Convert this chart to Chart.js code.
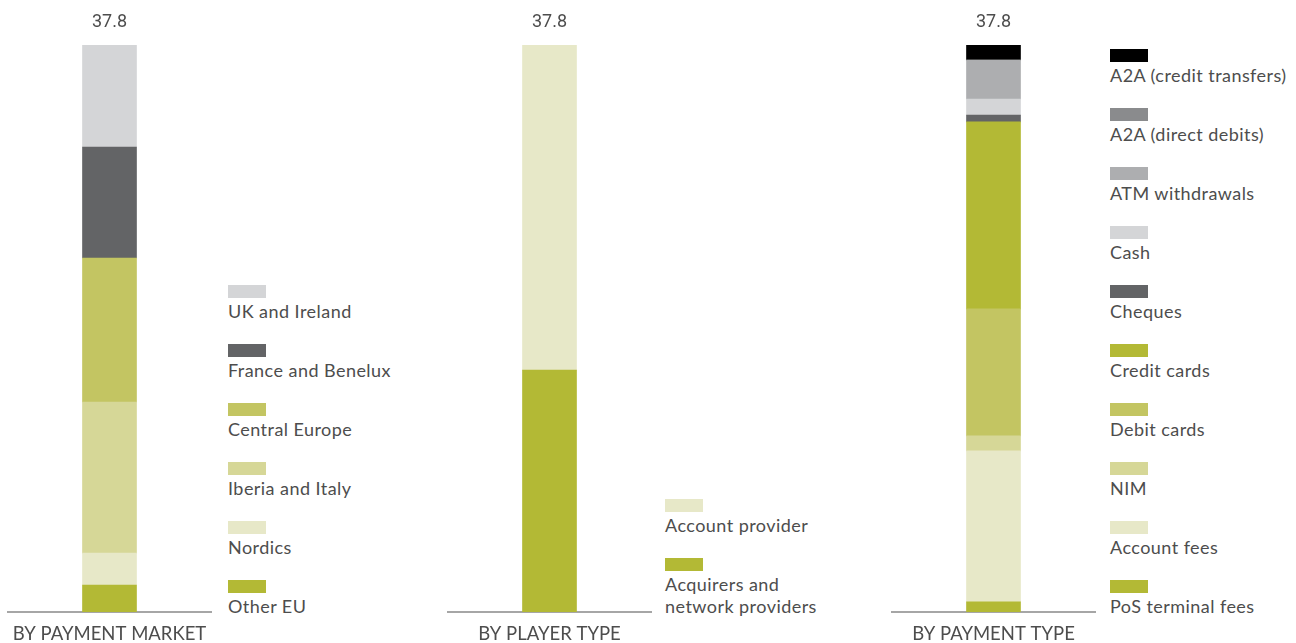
<!DOCTYPE html>
<html>
<head>
<meta charset="utf-8">
<script src="https://cdn.jsdelivr.net/npm/chart.js@4/dist/chart.umd.min.js"></script>
<style>
  body { margin: 0; width: 1296px; height: 643px; background: #fff; font-family: Lato, 'Open Sans', sans-serif; overflow: hidden; }
  .panel { position: absolute; top: 0; height: 643px; }
  .legend { position: absolute; bottom: 26px; display: flex; flex-direction: column; color: #4d4d4d; font-size: 18px; letter-spacing: 0.45px; }
  .legend .item { margin-top: 22px; }
  .legend .item:first-child { margin-top: 0; }
  .legend .box { width: 38px; height: 13px; margin-bottom: 2px; }
  .legend .txt { line-height: 22px; }
</style>
</head>
<body>
<div class="panel" id="p1" style="left:7px;width:205px"><canvas id="c1"></canvas></div>
<div class="panel" id="p2" style="left:447px;width:205px"><canvas id="c2"></canvas></div>
<div class="panel" id="p3" style="left:891px;width:205px"><canvas id="c3"></canvas></div>
<div class="legend" id="l1" style="left:228px;white-space:nowrap"></div>
<div class="legend" id="l2" style="left:665px;width:175px"></div>
<div class="legend" id="l3" style="left:1110px;white-space:nowrap"></div>
<script>
/* series listed bottom-to-top of each stack */
const marketLabels = ['Other EU', 'Nordics', 'Iberia and Italy', 'Central Europe', 'France and Benelux', 'UK and Ireland'];
const marketValues = [1.8, 2.13, 10.07, 9.6, 7.4, 6.8];
const marketColors = ['#b3b935', '#e7e8c8', '#d6d797', '#c3c562', '#636466', '#d4d5d7'];

const playerLabels = ['Acquirers and network providers', 'Account provider'];
const playerValues = [16.13, 21.67];
const playerColors = ['#b3b935', '#e7e8c8'];

const typeLabels = ['PoS terminal fees', 'Account fees', 'NIM', 'Debit cards', 'Credit cards', 'Cheques', 'Cash', 'ATM withdrawals', 'A2A (direct debits)', 'A2A (credit transfers)'];
const typeValues = [0.67, 10.07, 1.0, 8.47, 12.47, 0.45, 1.07, 2.6, 0, 1.0];
const typeColors = ['#b3b935', '#e7e8c8', '#d6d797', '#c3c562', '#b3b935', '#636466', '#d4d5d7', '#adaeb0', '#8a8b8d', '#000000'];

const AXIS_MAX = 37.8;
const TEXT = '#4d4d4d';
const FONT = 'Lato, "Open Sans", sans-serif';

const totalLabel = {
  id: 'totalLabel',
  afterDatasetsDraw(chart) {
    const total = chart.data.datasets.reduce((s, d) => s + d.data[0], 0);
    const x = chart.scales.x.getPixelForValue(0);
    const y = chart.scales.y.getPixelForValue(total);
    const ctx = chart.ctx;
    ctx.save();
    ctx.fillStyle = TEXT;
    ctx.font = '18px Roboto, sans-serif';
    ctx.textAlign = 'center';
    ctx.textBaseline = 'middle';
    ctx.fillText(total.toFixed(1), x, y - 23);
    ctx.restore();
  }
};

function renderStack(canvasId, category, labels, values, colors) {
  return new Chart(document.getElementById(canvasId), {
    type: 'bar',
    data: {
      labels: [category],
      datasets: labels.map((l, i) => ({
        label: l, data: [values[i]], backgroundColor: colors[i],
        borderWidth: 0, barThickness: 54,
      }))
    },
    options: {
      responsive: true, maintainAspectRatio: false, animation: false,
      layout: { padding: { top: 45, left: 0, right: 0, bottom: 0 } },
      scales: {
        x: {
          stacked: true,
          grid: { display: false, drawTicks: false },
          border: { display: true, color: '#a6a6a6', width: 2 },
          ticks: { color: TEXT, font: { family: FONT, size: 18.5 }, padding: 11, maxRotation: 0, autoSkip: false },
          afterFit(s) { s.height = 31; s.paddingLeft = 0; s.paddingRight = 0; },
        },
        y: { stacked: true, display: false, min: 0, max: AXIS_MAX },
      },
      plugins: { legend: { display: false }, tooltip: { enabled: false } },
    },
    plugins: [totalLabel]
  });
}

function renderLegend(elId, labels, colors) {
  const el = document.getElementById(elId);
  // legend reads top of stack first
  for (let i = labels.length - 1; i >= 0; i--) {
    el.innerHTML += `<div class="item"><div class="box" style="background:${colors[i]}"></div><div class="txt">${labels[i]}</div></div>`;
  }
}

renderStack('c1', 'BY PAYMENT MARKET', marketLabels, marketValues, marketColors);
renderStack('c2', 'BY PLAYER TYPE', playerLabels, playerValues, playerColors);
renderStack('c3', 'BY PAYMENT TYPE', typeLabels, typeValues, typeColors);
renderLegend('l1', marketLabels, marketColors);
renderLegend('l2', playerLabels, playerColors);
renderLegend('l3', typeLabels, typeColors);
</script>
</body>
</html>
